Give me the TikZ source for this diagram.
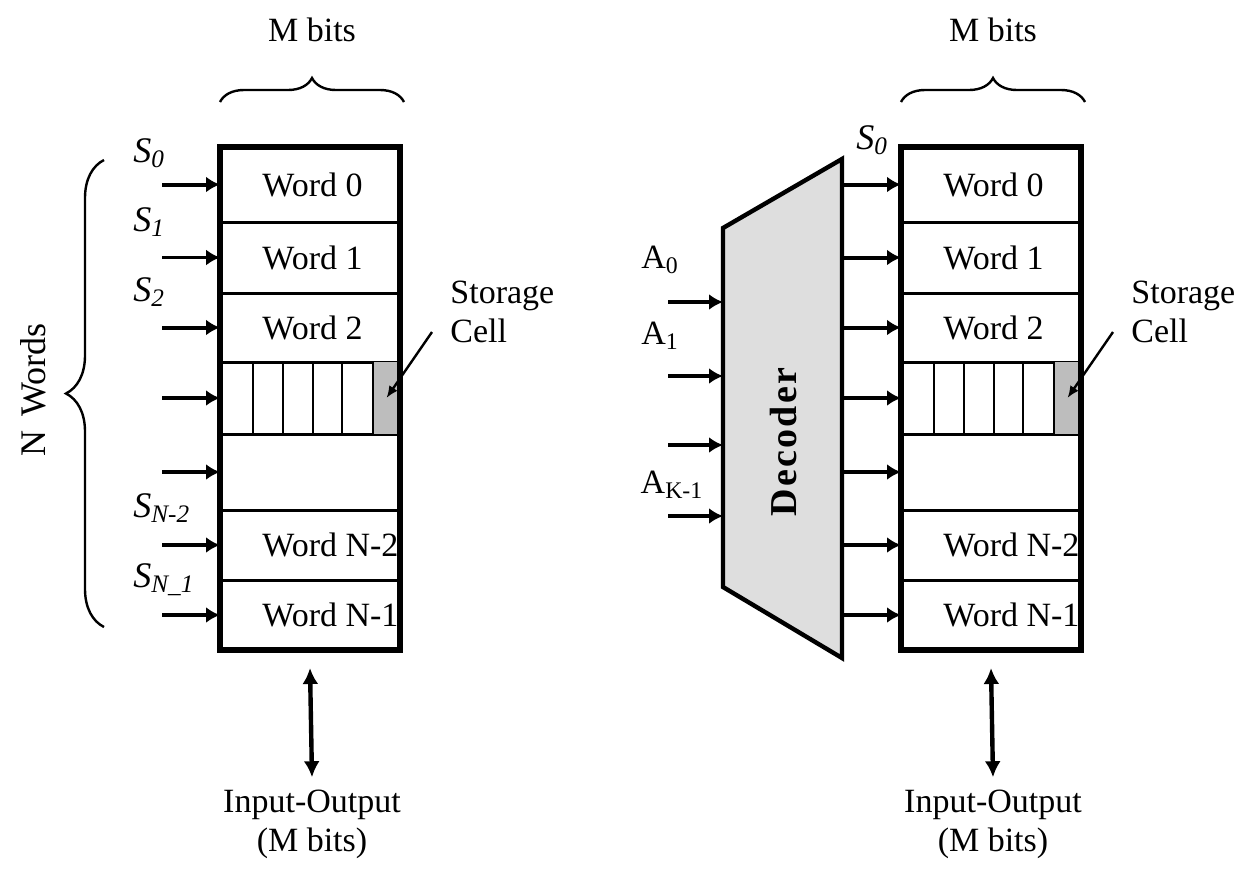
\documentclass[tikz,border=0pt]{standalone}
\usepackage{fontspec}
\setmainfont{Liberation Serif}
\usetikzlibrary{arrows.meta,decorations.pathreplacing}

\definecolor{decgray}{HTML}{DEDEDE}
\definecolor{cellgray}{HTML}{BDBDBD}
\newcommand{\selname}[1]{\textit{S\textsubscript{#1}}}

\begin{document}
\begin{tikzpicture}[x=0.5pt, y=-0.5pt,
    every node/.style={font=\fontsize{17}{19.5}\selectfont},
    row/.style={draw, line width=1.5pt, minimum width=90pt, anchor=north west, inner sep=0pt, outer sep=0pt},
    cellbox/.style={fill=cellgray, minimum width=13.5pt, minimum height=36pt, inner sep=0pt},
    wordtxt/.style={anchor=west, inner sep=0pt},
    seltxt/.style={anchor=west, inner sep=0pt, font=\fontsize{18}{20}\selectfont},
    sel/.style={line width=2pt, -{Latex[length=7pt,width=8pt]}},
    ptr/.style={line width=1.2pt, -{Latex[length=6pt,width=5pt]}},
    io/.style={line width=2.2pt, {Latex[length=8pt,width=8pt]}-{Latex[length=8pt,width=8pt]}},
    brace/.style={decorate, decoration={brace, amplitude=#1}, line width=1.2pt},
    brace/.default=12pt,
    ]

    \useasboundingbox (0,0) rectangle (1251,869);

    % Memory arrays
    \foreach \b/\xo in {L/220, R/901} {
        \foreach \i/\t/\h in {0/147/75, 1/222/71, 2/293/69, 3/362/72, 4/434/76, 5/510/70, 6/580/70}
            \node[row, minimum height=\h*0.5pt] (\b\i) at (\xo,\t) {};

        % storage cells
        \node[cellbox] (\b cell) at (\xo+166.5,398) {};
        \foreach \c in {33,63,93,122,153}
            \draw[line width=1.3pt] (\xo+\c,362) -- (\xo+\c,434);

        \node[wordtxt] (\b t0) at ([xshift=21pt]\b0.west) {Word 0};
        \node[wordtxt] (\b t1) at ([xshift=21pt]\b1.west) {Word 1};
        \node[wordtxt] (\b t2) at ([xshift=21pt]\b2.west) {Word 2};
        \node[wordtxt] (\b t5) at ([xshift=21pt]\b5.west) {Word N-2};
        \node[wordtxt] (\b t6) at ([xshift=21pt]\b6.west) {Word N-1};

        \draw[line width=2.6pt] (\b0.north west) rectangle (\b6.south east);

        % M bits
        \draw[brace] (\xo,102) -- (\xo+184,102);
        \node (\b mb) at (\xo+92,30) {M bits};

        % Storage cell pointer
        \node[anchor=west, inner sep=0pt, align=left] (\b st) at (\xo+230,312) {Storage\\Cell};
        \coordinate (\b stp) at (\xo+212,332);
        \draw[ptr] (\b stp) -- (\b cell.center);

        % Input-Output
        \node[align=center, inner sep=0pt] (\b io) at (\xo+92,824) {Input-Output\\(M bits)};
        \draw[io] ([yshift=-9pt]\b6.south) -- ([yshift=6pt]\b io.north);
    }

    % Left: select lines
    \node[seltxt] (s0) at (133,153) {\selname{0}};
    \node[seltxt] (s1) at (133,222) {\selname{1}};
    \node[seltxt] (s2) at (133,292) {\selname{2}};
    \node[seltxt] (s5) at (133,508) {\selname{N-2}};
    \node[seltxt] (s6) at (133,580) {\selname{N\_1}};
    \foreach \i in {0,2,3,4,5,6}
        \draw[sel] ([xshift=-29pt]L\i.west) -- (L\i.west);
    \draw[sel, line width=1.1pt] ([xshift=-29pt]L1.west) -- (L1.west);

    % N Words
    \draw[brace=19pt] (104,627) -- (104,160);
    \node[rotate=90, font=\fontsize{18}{20}\selectfont] (nw) at (33,390) {N\hspace{0.4em}Words};

    % Decoder
    \coordinate (dtl) at (723,228);
    \coordinate (dtr) at (842,159);
    \coordinate (dbr) at (842,658);
    \coordinate (dbl) at (723,587);
    \draw[line width=2.2pt, fill=decgray] (dtl) -- (dtr) -- (dbr) -- (dbl) -- cycle;
    \node[rotate=90, font=\fontsize{19}{21}\bfseries\addfontfeature{LetterSpace=6}] (dec) at (783,442) {Decoder};

    \foreach \y [count=\k] in {302,376,445,516} {
        \coordinate (a\k) at (668,\y);
        \draw[sel] (a\k) -- (dtl |- a\k);
    }
    \node[inner sep=0pt] (a0txt) at (660,260) {A\textsubscript{0}};
    \node[inner sep=0pt] (a1txt) at (660,336) {A\textsubscript{1}};
    \node[inner sep=0pt] (aktxt) at (672,485) {A\textsubscript{K-1}};

    \node[seltxt] (rs0) at (856,140) {\selname{0}};
    \foreach \i in {0,...,6}
        \draw[sel] (dtr |- R\i.west) -- (R\i.west);

\end{tikzpicture}
\end{document}
